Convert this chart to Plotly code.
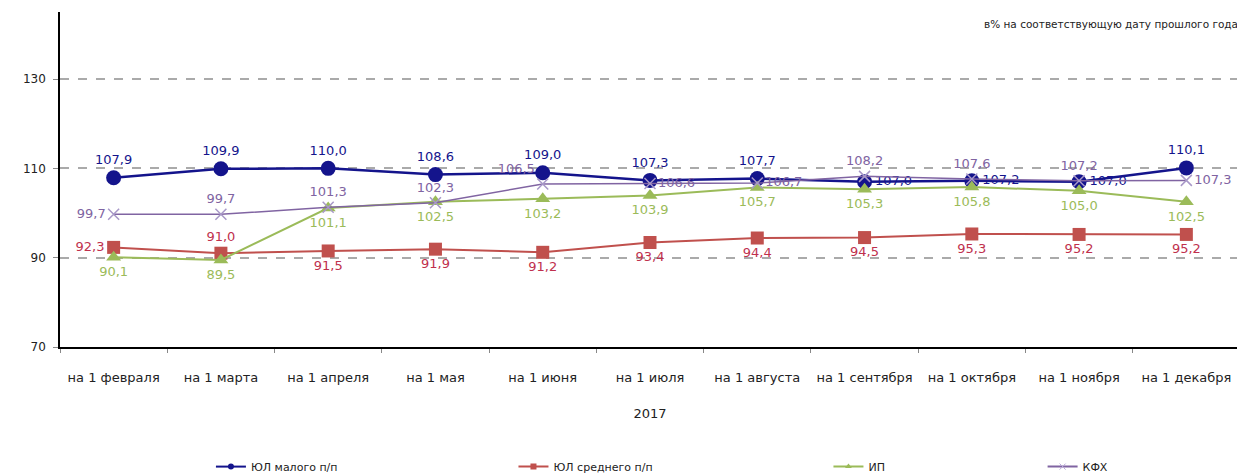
import plotly.graph_objects as go

categories = ["на 1 февраля", "на 1 марта", "на 1 апреля", "на 1 мая", "на 1 июня",
              "на 1 июля", "на 1 августа", "на 1 сентября", "на 1 октября",
              "на 1 ноября", "на 1 декабря"]
small = [107.9, 109.9, 110.0, 108.6, 109.0, 107.3, 107.7, 107.0, 107.2, 107.0, 110.1]
medium = [92.3, 91.0, 91.5, 91.9, 91.2, 93.4, 94.4, 94.5, 95.3, 95.2, 95.2]
ip = [90.1, 89.5, 101.1, 102.5, 103.2, 103.9, 105.7, 105.3, 105.8, 105.0, 102.5]
kfh = [99.7, 99.7, 101.3, 102.3, 106.5, 106.6, 106.7, 108.2, 107.6, 107.2, 107.3]
y_ticks = [70, 90, 110, 130]

small_pos = ["top center"] * 7 + ["middle right"] * 3 + ["top center"]
medium_pos = ["middle left", "top center"] + ["bottom center"] * 9
ip_pos = ["bottom center"] * 11
kfh_pos = ["middle left", "top center", "top center", "top center", "top left",
           "middle right", "middle right", "top center", "top center", "top center",
           "middle right"]

def fmt(vals):
    return [f"{v:.1f}".replace(".", ",") for v in vals]

FONT = "DejaVu Sans"
fig = go.Figure()

series = [
    ("ЮЛ малого п/п", small, small_pos, "#14148C", "#14148C", dict(symbol="circle", size=15), 2.5, "circle"),
    ("ЮЛ среднего п/п", medium, medium_pos, "#C0504D", "#C0304D", dict(symbol="square", size=13), 2, "square"),
    ("ИП", ip, ip_pos, "#9BBB59", "#9BBB59", dict(symbol="triangle-up", size=13), 2, "triangle-up"),
    ("КФХ", kfh, kfh_pos, "#8064A2", "#8064A2", dict(symbol="x-thin", size=11, line=dict(width=1.5, color="#A898C8")), 1.5, "x-thin"),
]
legend_ids = ["legend", "legend2", "legend3", "legend4"]
legend_x = [0.163, 0.406, 0.659, 0.831]
for (name, vals, pos, col, tcol, mk, lw, sym), lid in zip(series, legend_ids):
    fig.add_trace(go.Scatter(
        x=categories, y=vals, name=name, mode="lines+markers+text",
        line=dict(color=col, width=lw),
        marker=dict(color=col, **mk),
        text=fmt(vals), textposition=pos,
        textfont=dict(family=FONT, size=13, color=tcol),
        cliponaxis=False, showlegend=False,
    ))
    fig.add_trace(go.Scatter(
        x=[None], y=[None], name=name, mode="lines+markers",
        line=dict(color=col, width=2),
        marker=dict(color=col, symbol=sym, size=6,
                    line=dict(width=1, color="#B8A8D8") if sym == "x-thin" else None),
        legend=lid, showlegend=True,
    ))

fig.add_annotation(text="в% на соответствующую дату прошлого года", xref="paper", yref="paper",
                   x=1.0, y=0.965, xanchor="right", yanchor="middle", showarrow=False,
                   font=dict(family=FONT, size=10.5, color="#222"))

leg_common = dict(orientation="h", xref="container", yref="container", y=0.004,
                  xanchor="left", yanchor="bottom", font=dict(family=FONT, size=11),
                  bgcolor="rgba(0,0,0,0)")
layout_legends = {lid: dict(x=lx, **leg_common) for lid, lx in zip(legend_ids, legend_x)}

fig.update_layout(
    width=1245, height=475,
    margin=dict(l=52, r=13, t=4, b=136, autoexpand=False),
    plot_bgcolor="white", paper_bgcolor="white",
    font=dict(family=FONT, size=12, color="#222"),
    showlegend=True,
    xaxis=dict(type="category", range=[-0.5, 10.5], showline=True, linecolor="black",
               linewidth=1.5, ticks="outside", tickson="boundaries", ticklen=4,
               tickcolor="#888", showgrid=False, tickfont=dict(family=FONT, size=13),
               ticklabelstandoff=18, automargin=False,
               title=dict(text="2017", font=dict(family=FONT, size=13), standoff=25)),
    yaxis=dict(range=[70, 145], tickvals=y_ticks, showline=True, linecolor="black",
               linewidth=1.5, ticks="outside", ticklen=5, tickcolor="#888",
               ticklabelstandoff=5,
               showgrid=True, gridcolor="#AAAAAA", griddash="dash", gridwidth=1.5,
               zeroline=False, tickfont=dict(family=FONT, size=12), automargin=False),
    **layout_legends,
)
fig.write_html("out.html")
